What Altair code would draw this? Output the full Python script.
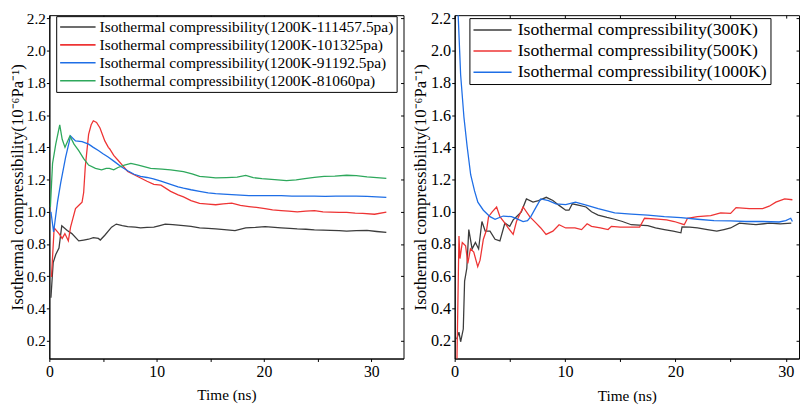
import altair as alt
import pandas as pd

FONT = "Liberation Serif"

# ---------------- left panel (1200 K, different pressures) ----------------
L_names = [
    "Isothermal compressibility(1200K-111457.5pa)",
    "Isothermal compressibility(1200K-101325pa)",
    "\u00a0Isothermal compressibility(1200K-91192.5pa)",
    "Isothermal compressibility(1200K-81060pa)",
]
L_colors = ["#3c3c3c", "#ee3434", "#1e6ee6", "#2ea85c"]

p1_t = [0.15, 0.36, 0.6, 0.9, 1.16, 1.67, 2.1, 2.74, 3.2, 3.66, 4.1, 4.57, 4.75, 5.17, 5.8, 6.24, 6.8, 7.3, 8.0, 8.5,
        9.1, 9.74, 10.3, 10.8, 11.5, 12.5, 13.2, 14.0, 14.8, 15.5, 16.3, 17.3, 18.3, 19.2, 20.1, 21.0, 21.6, 22.4,
        23.1, 23.9, 24.7, 25.5, 26.2, 27.0, 27.7, 28.6, 29.6, 30.5, 31.4]
p1_v = [0.467, 0.685, 0.735, 0.775, 0.914, 0.884, 0.865, 0.82, 0.825, 0.83, 0.84, 0.835, 0.825, 0.855, 0.905, 0.924,
        0.915, 0.908, 0.905, 0.90, 0.903, 0.905, 0.915, 0.924, 0.92, 0.914, 0.91, 0.90, 0.898, 0.894, 0.89, 0.884,
        0.90, 0.903, 0.908, 0.903, 0.90, 0.897, 0.894, 0.892, 0.888, 0.886, 0.885, 0.883, 0.88, 0.884, 0.885, 0.878,
        0.872]

p2_t = [0.2, 0.45, 0.9, 1.2, 1.45, 1.77, 1.98, 2.44, 2.9, 3.05, 3.2, 3.35, 3.66, 3.9, 4.1, 4.4, 4.72, 5.17, 5.5, 5.63,
        6.0, 6.4, 6.8, 7.3, 7.9, 8.5, 9.1, 9.74, 10.4, 11.3, 12.0, 12.5, 13.2, 14.0, 14.8, 15.5, 16.2, 17.0, 17.8,
        18.6, 19.3, 20.1, 20.8, 21.6, 22.3, 23.1, 23.9, 24.7, 25.5, 26.2, 27.0, 27.7, 28.5, 29.2, 30.3, 31.4]
p2_v = [0.596, 0.90, 0.865, 0.835, 0.865, 0.82, 0.905, 1.02, 1.05, 1.06, 1.12, 1.28, 1.48, 1.54, 1.565, 1.555, 1.52,
        1.44, 1.40, 1.39, 1.35, 1.32, 1.29, 1.25, 1.23, 1.21, 1.19, 1.17, 1.165, 1.127, 1.105, 1.093, 1.07, 1.053,
        1.048, 1.044, 1.05, 1.054, 1.04, 1.033, 1.027, 1.02, 1.012, 1.008, 1.005, 1.0, 1.004, 1.008, 1.0, 0.998,
        0.996, 0.997, 0.992, 0.99, 0.985, 0.998]

p3_t = [0.15, 0.4, 0.76, 1.06, 1.52, 1.98, 2.44, 3.05, 3.66, 4.1, 4.57, 5.0, 5.48, 6.1, 6.7, 7.3, 7.9, 8.5, 9.1, 9.7,
        10.4, 11.3, 12.0, 12.5, 13.2, 14.0, 14.8, 15.5, 16.2, 17.0, 17.8, 18.6, 19.5, 20.5, 21.6, 22.6, 23.6, 24.7,
        25.7, 26.7, 27.7, 28.6, 29.6, 30.5, 31.4]
p3_v = [1.0, 0.875, 1.06, 1.18, 1.34, 1.47, 1.44, 1.435, 1.42, 1.40, 1.38, 1.36, 1.34, 1.31, 1.28, 1.255, 1.233,
        1.22, 1.213, 1.205, 1.19, 1.17, 1.155, 1.147, 1.137, 1.127, 1.118, 1.113, 1.11, 1.107, 1.103, 1.10, 1.10,
        1.10, 1.10, 1.098, 1.097, 1.097, 1.096, 1.097, 1.097, 1.098, 1.096, 1.093, 1.09]

p4_t = [0.1, 0.3, 0.6, 0.97, 1.2, 1.46, 1.92, 2.3, 2.74, 3.2, 3.66, 4.3, 4.87, 5.3, 5.6, 6.0, 6.4, 7.0, 7.6, 8.3,
        9.44, 10.5, 11.3, 12.5, 13.3, 14.0, 14.8, 15.5, 16.5, 17.5, 18.3, 19.0, 19.8, 21.0, 22.1, 23.0, 23.8, 24.7,
        25.6, 26.6, 27.7, 28.6, 29.6, 30.5, 31.4]
p4_v = [1.03, 1.3, 1.42, 1.54, 1.45, 1.40, 1.47, 1.42, 1.38, 1.33, 1.29, 1.27, 1.26, 1.27, 1.27, 1.26, 1.275, 1.29,
        1.30, 1.29, 1.27, 1.265, 1.26, 1.25, 1.235, 1.22, 1.215, 1.21, 1.212, 1.215, 1.226, 1.212, 1.206, 1.2, 1.193,
        1.198, 1.206, 1.214, 1.22, 1.222, 1.227, 1.225, 1.217, 1.212, 1.207]

# ---------------- right panel (different temperatures) ----------------
R_names = [
    "Isothermal compressibility(300K)",
    "Isothermal compressibility(500K)",
    "Isothermal compressibility(1000K)",
]
R_colors = ["#3c3c3c", "#ee3434", "#1e6ee6"]

k300_t = [0.18, 0.39, 0.54, 0.78, 0.9, 1.1, 1.28, 1.58, 1.88, 2.17, 2.47, 2.77, 3.2, 3.66, 4.1, 4.55, 4.99, 5.3, 5.6,
          6.04, 6.5, 7.1, 7.6, 8.3, 8.9, 9.46, 10.06, 10.36, 10.66, 11.3, 11.9, 12.4, 13.0, 13.8, 14.5, 15.2, 16.0,
          16.7, 17.5, 18.2, 19.0, 19.8, 20.5, 20.6, 21.3, 22.0, 22.9, 23.75, 24.4, 25.0, 25.8, 26.5, 27.3, 28.5,
          29.5, 30.5]
k300_v = [0.21, 0.254, 0.194, 0.273, 0.57, 0.65, 0.89, 0.77, 0.81, 0.77, 0.94, 0.88, 0.88, 0.83, 0.82, 0.93, 0.91,
          0.95, 0.97, 1.0, 1.08, 1.06, 1.07, 1.09, 1.07, 1.04, 1.01, 1.01, 1.05, 1.04, 1.03, 1.0, 0.98, 0.965, 0.954,
          0.94, 0.92, 0.918, 0.914, 0.90, 0.89, 0.88, 0.87, 0.906, 0.905, 0.90, 0.89, 0.88, 0.89, 0.90, 0.93, 0.925,
          0.92, 0.93, 0.925, 0.93]

k500_t = [0.2, 0.39, 0.48, 0.69, 0.99, 1.19, 1.43, 1.73, 2.09, 2.3, 2.6, 2.9, 3.07, 3.4, 3.8, 4.1, 4.55, 4.85, 5.3,
          5.6, 6.2, 6.8, 7.38, 7.8, 8.28, 8.9, 9.46, 10.06, 10.9, 11.5, 12.0, 12.4, 13.2, 13.9, 14.2, 15.0, 16.0,
          16.76, 17.2, 18.4, 19.2, 19.9, 20.8, 21.1, 22.0, 23.2, 24.1, 25.0, 25.5, 26.7, 27.9, 28.5, 29.1, 29.9, 30.6]
k500_v = [0.05, 0.85, 0.71, 0.81, 0.79, 0.68, 0.77, 0.75, 0.66, 0.70, 0.83, 0.89, 0.97, 1.0, 1.03, 0.97, 0.93, 0.90,
          0.86, 0.94, 1.03, 0.97, 0.93, 0.90, 0.86, 0.88, 0.92, 0.90, 0.90, 0.89, 0.926, 0.91, 0.90, 0.89, 0.91,
          0.905, 0.905, 0.905, 0.96, 0.955, 0.95, 0.94, 0.92, 0.96, 0.97, 0.976, 0.994, 0.99, 1.026, 1.02, 1.02,
          1.035, 1.06, 1.08, 1.075]

k1000_t = [0.15, 0.3, 0.45, 0.54, 0.84, 1.13, 1.45, 1.8, 2.1, 2.6, 3.2, 3.66, 4.4, 5.15, 5.7, 6.2, 6.6, 6.9, 7.3,
           7.8, 8.5, 9.17, 10.06, 10.95, 12.0, 13.0, 14.5, 16.0, 17.5, 19.0, 20.5, 22.0, 23.5, 25.0, 26.4, 27.9,
           29.4, 30.0, 30.45, 30.6]
k1000_v = [2.8, 2.25, 2.0, 1.85, 1.587, 1.405, 1.23, 1.13, 1.06, 1.01, 0.97, 0.954, 0.974, 0.97, 0.955, 0.94, 0.945,
           0.97, 1.02, 1.08, 1.07, 1.05, 1.045, 1.06, 1.04, 1.02, 0.994, 0.986, 0.98, 0.97, 0.964, 0.954, 0.946,
           0.944, 0.94, 0.94, 0.937, 0.945, 0.96, 0.94]

y_ticks = [0.2, 0.4, 0.6, 0.8, 1.0, 1.2, 1.4, 1.6, 1.8, 2.0, 2.2]
x_ticks = [0, 5, 10, 15, 20, 25, 30]
Y_DOM = [0.09, 2.22]
H = 349
Y_TITLE = "Isothermal compressibility(10\u207b\u2076Pa\u207b\u00b9)"

AX = dict(labelFont=FONT, titleFont=FONT, labelColor="black", titleColor="black",
          domainColor="black", tickColor="black", titleFontWeight="normal",
          labelFontWeight="normal", domainWidth=1, tickWidth=1, grid=False)


def make_df(names, ts_list, vs_list):
    rows = []
    for name, ts, vs in zip(names, ts_list, vs_list):
        for i, (t, v) in enumerate(zip(ts, vs)):
            rows.append({"t": t, "v": v, "s": name, "i": i})
    return pd.DataFrame(rows)


def panel(df, names, colors, xdom, width, xfs, yfs, lfs, legx, legy, symsize, cliph, rowpad, laboff, ytp):
    xs = alt.Scale(domain=xdom, nice=False, zero=False)
    ys = alt.Scale(domain=Y_DOM, nice=False, zero=False)
    lines = alt.Chart(df).mark_line(strokeWidth=1.3, clip=True).encode(
        x=alt.X("t:Q", scale=xs, axis=alt.Axis(
            values=x_ticks, labelExpr="datum.value % 10 === 0 ? datum.label : ''",
            title="Time (ns)", titleFontSize=15.5, titlePadding=9, labelFontSize=xfs,
            labelFlush=False, tickSize=3, labelPadding=2, **AX)),
        y=alt.Y("v:Q", scale=ys, axis=alt.Axis(
            values=y_ticks, format=".1f", title=Y_TITLE, titleFontSize=17, titlePadding=ytp,
            labelFontSize=yfs, tickSize=3, labelPadding=1, **AX)),
        color=alt.Color("s:N", scale=alt.Scale(domain=names, range=colors), legend=alt.Legend(
            orient="none", legendX=legx, legendY=legy, title=None, symbolType="stroke",
            symbolSize=symsize, symbolStrokeWidth=1.6, clipHeight=cliph, labelFont=FONT,
            labelFontSize=lfs, labelColor="black", labelLimit=600, strokeColor="black",
            fillColor="white", padding=3, rowPadding=rowpad, labelOffset=laboff)),
        order="i:Q",
    )
    frame = alt.Chart(df).mark_line(opacity=0, clip=True).encode(
        x=alt.X("t:Q", scale=xs, axis=alt.Axis(
            orient="top", values=x_ticks, labels=False, title=None, domain=False,
            tickSize=3, offset=-3, tickColor="black", grid=False)),
        y=alt.Y("v:Q", scale=ys, axis=alt.Axis(
            orient="right", values=y_ticks, labels=False, title=None, domain=False,
            tickSize=3, offset=-3, tickColor="black", grid=False)),
        detail="s:N",
    )
    return alt.layer(lines, frame).resolve_scale(x="independent", y="independent").properties(
        width=width, height=H)


left_df = make_df(L_names, [p1_t, p2_t, p3_t, p4_t], [p1_v, p2_v, p3_v, p4_v])
right_df = make_df(R_names, [k300_t, k500_t, k1000_t], [k300_v, k500_v, k1000_v])

left = panel(left_df, L_names, L_colors, [0, 33], 360, 16, 15.5, 15.7, 7, 1, 1296, 16, 2.2, 3, 0)
right = panel(right_df, R_names, R_colors, [0, 31.2], 350, 16.5, 16.5, 18, 15, 3, 1500, 18, 3.5, 5, 1.5)

chart = alt.hconcat(left, right, spacing=6).resolve_scale(color="independent").resolve_legend(
    color="independent").properties(
    padding={"left": 0, "top": -2, "right": 0, "bottom": 0}).configure_view(
    stroke="black", strokeWidth=1)

chart.save("out.html", embed_options={"renderer": "svg", "actions": False})
